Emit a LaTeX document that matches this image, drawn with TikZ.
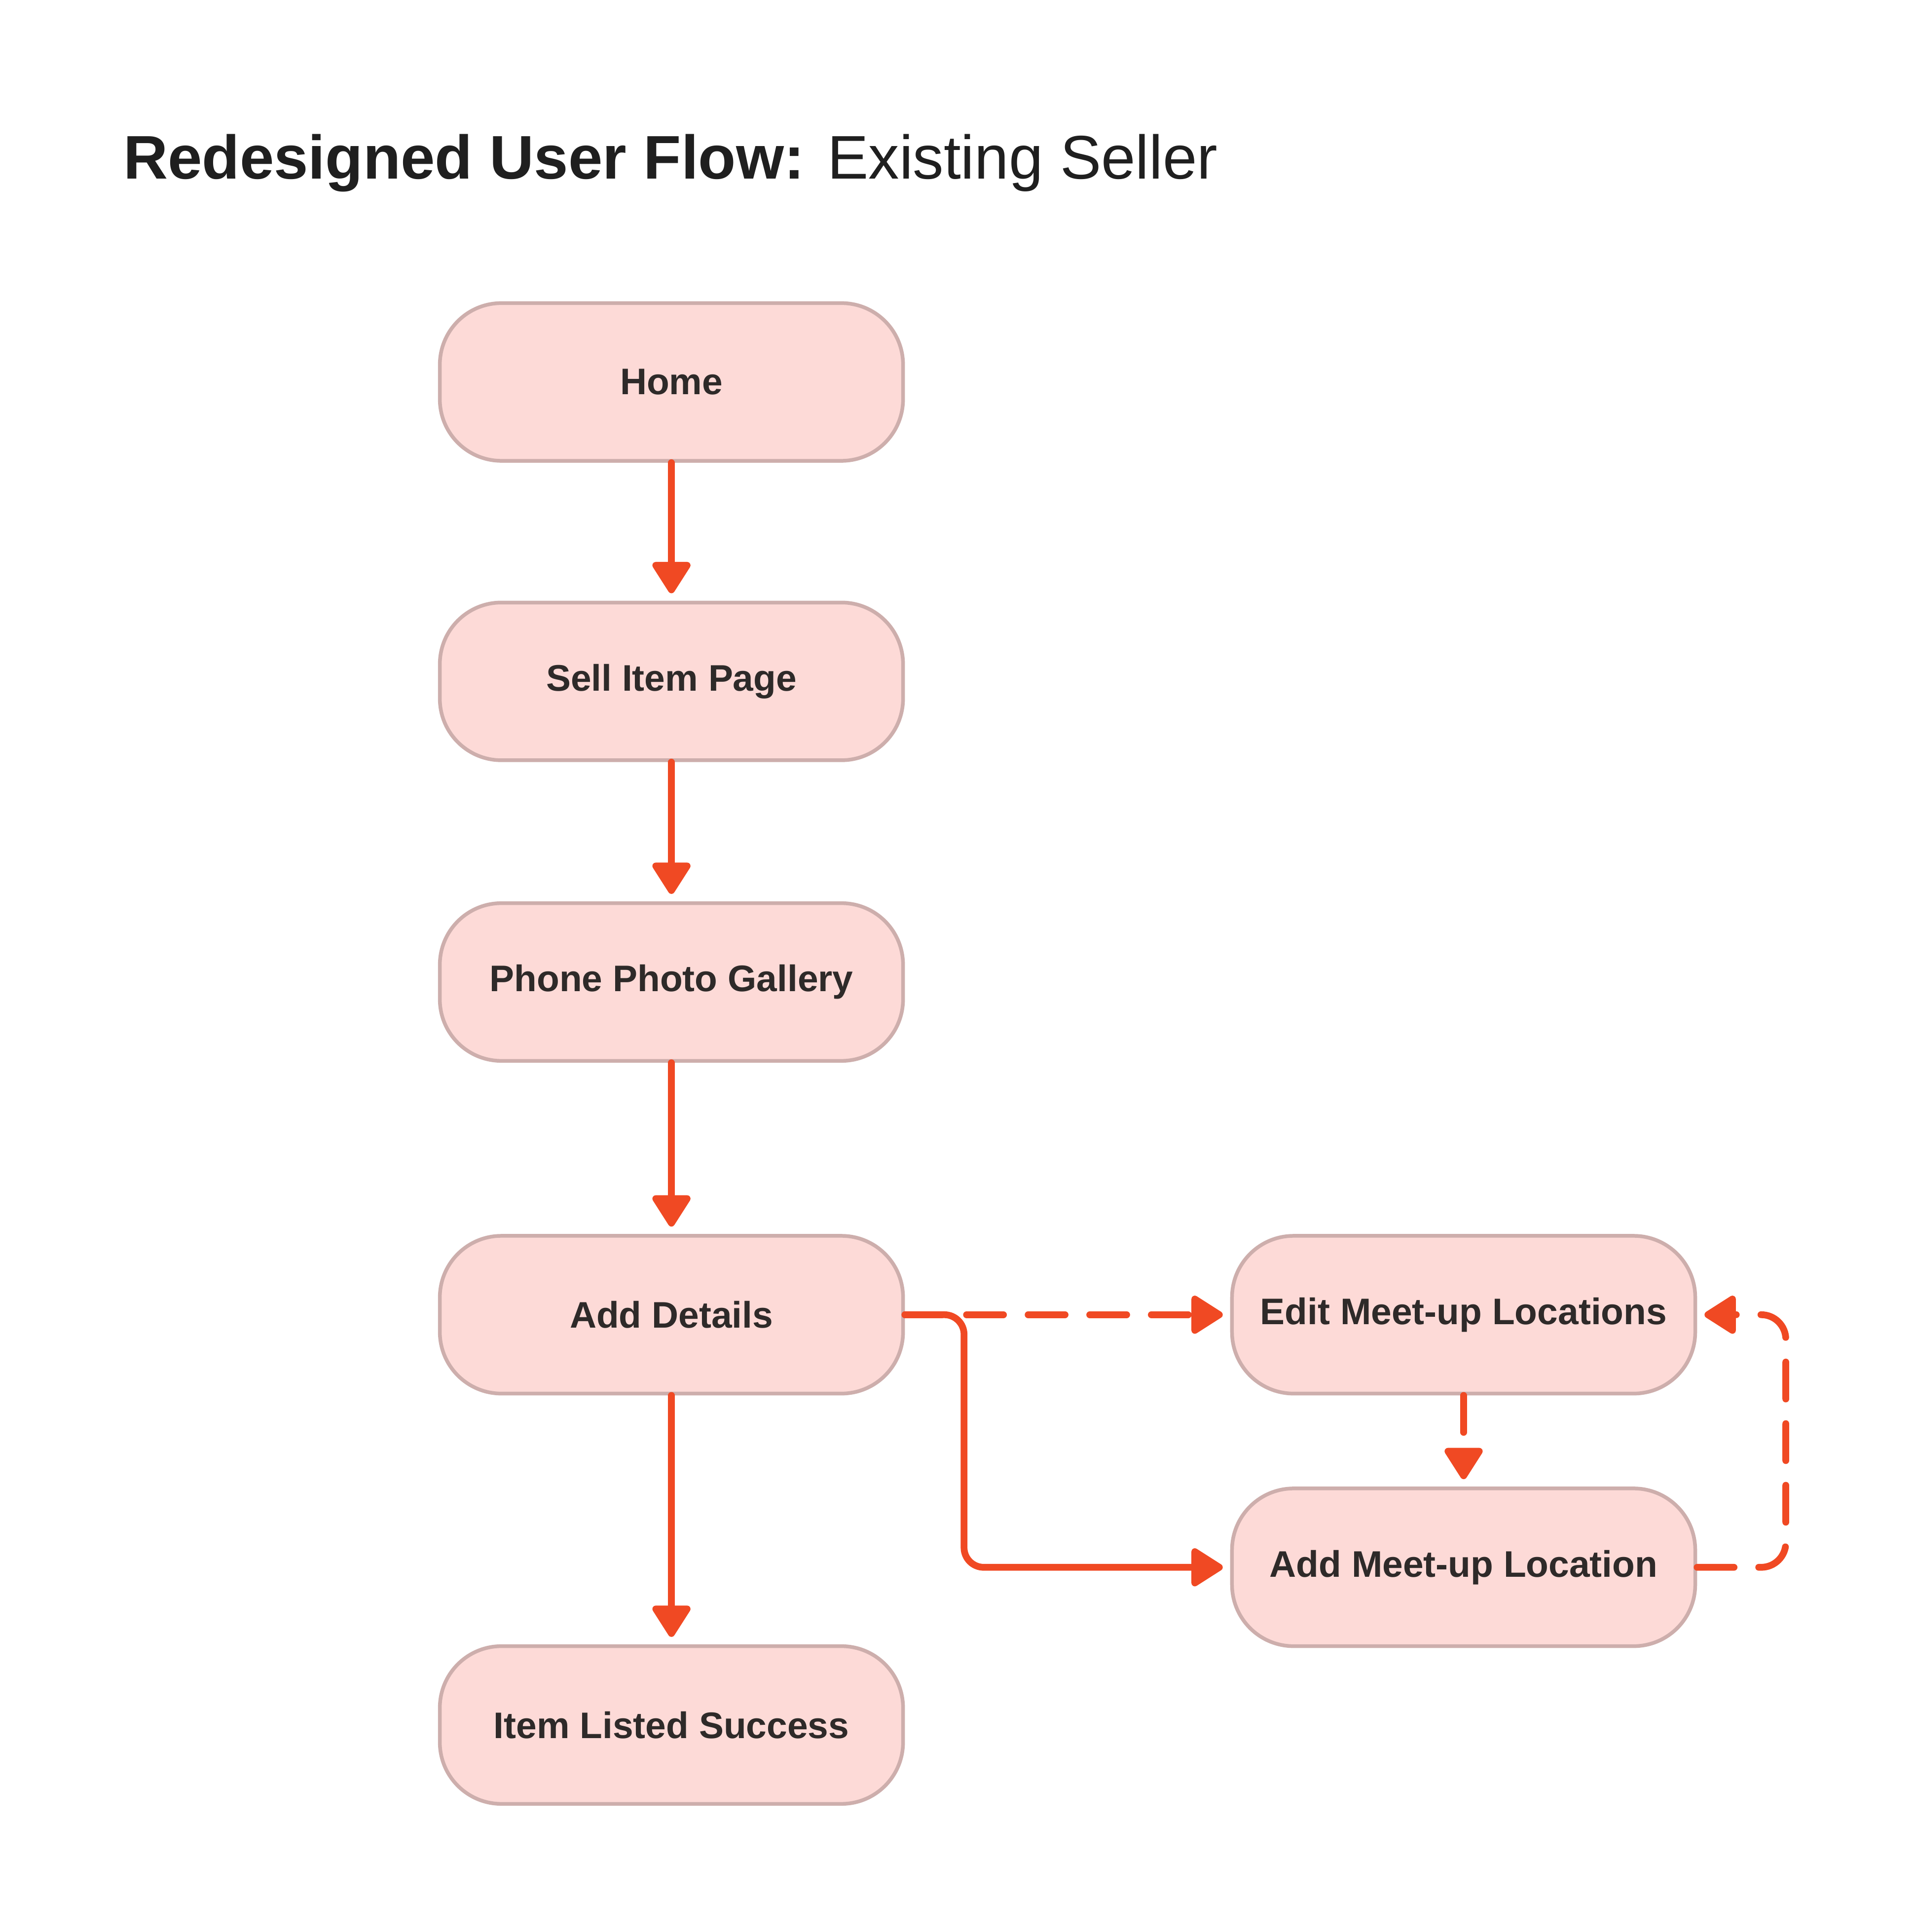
\documentclass[tikz,border=0pt]{standalone}
\usepackage{fontspec}
\setmainfont{Liberation Sans}
\usepackage{xcolor}
\usepackage{tikz}
\usetikzlibrary{arrows.meta, positioning}

\definecolor{boxfill}{HTML}{FDDAD7}
\definecolor{boxline}{HTML}{CDAEAC}
\definecolor{flowred}{HTML}{F04923}
\definecolor{inkdark}{HTML}{2E2A29}
\definecolor{titleink}{HTML}{1F1F1F}

\tikzset{
  screen/.style={draw=boxline, fill=boxfill, line width=3pt, rounded corners=50pt,
    minimum width=376pt, minimum height=128pt, text=inkdark,
    font=\fontsize{30}{36}\selectfont\bfseries},
  flow/.style={draw=flowred, line width=5.5pt, line cap=round,
    -{Triangle[length=28pt, width=34pt, round]}, shorten >=6pt},
  optional/.style={flow, dash pattern=on 30pt off 20pt}
}

\begin{document}
\begin{tikzpicture}[x=1pt, y=1pt]
\useasboundingbox[fill=white] (0,0) rectangle (1554,-1568);
\node[anchor=base west, text=titleink, inner sep=0pt, font=\fontsize{50}{60}\selectfont]
  (title) at (100,-145) {\textbf{Redesigned User Flow:} Existing Seller};

\node[screen] (home) at (545,-310) {Home};
\node[screen] (sell) at (545,-553) {Sell Item Page};
\node[screen] (gallery) at (545,-797) {Phone Photo Gallery};
\node[screen] (details) at (545,-1067) {Add Details};
\node[screen] (success) at (545,-1400) {Item Listed Success};
\node[screen] (meetedit) at (1188,-1067) {Edit Meet-up Locations};
\node[screen] (meetadd) at (1188,-1272) {Add Meet-up Location};

\draw[flow] (home) -- (sell);
\draw[flow] (sell) -- (gallery);
\draw[flow] (gallery) -- (details);
\draw[flow] (details) -- (success);
\draw[flow, rounded corners=16pt] (details.east) -- ++(48,0) |- (meetadd.west);
\draw[optional] (details.east) -- (meetedit.west);
\draw[optional] (meetedit) -- (meetadd);
\draw[optional, rounded corners=20pt] (meetadd.east) -- ++(72,0) |- (meetedit.east);
\end{tikzpicture}
\end{document}
